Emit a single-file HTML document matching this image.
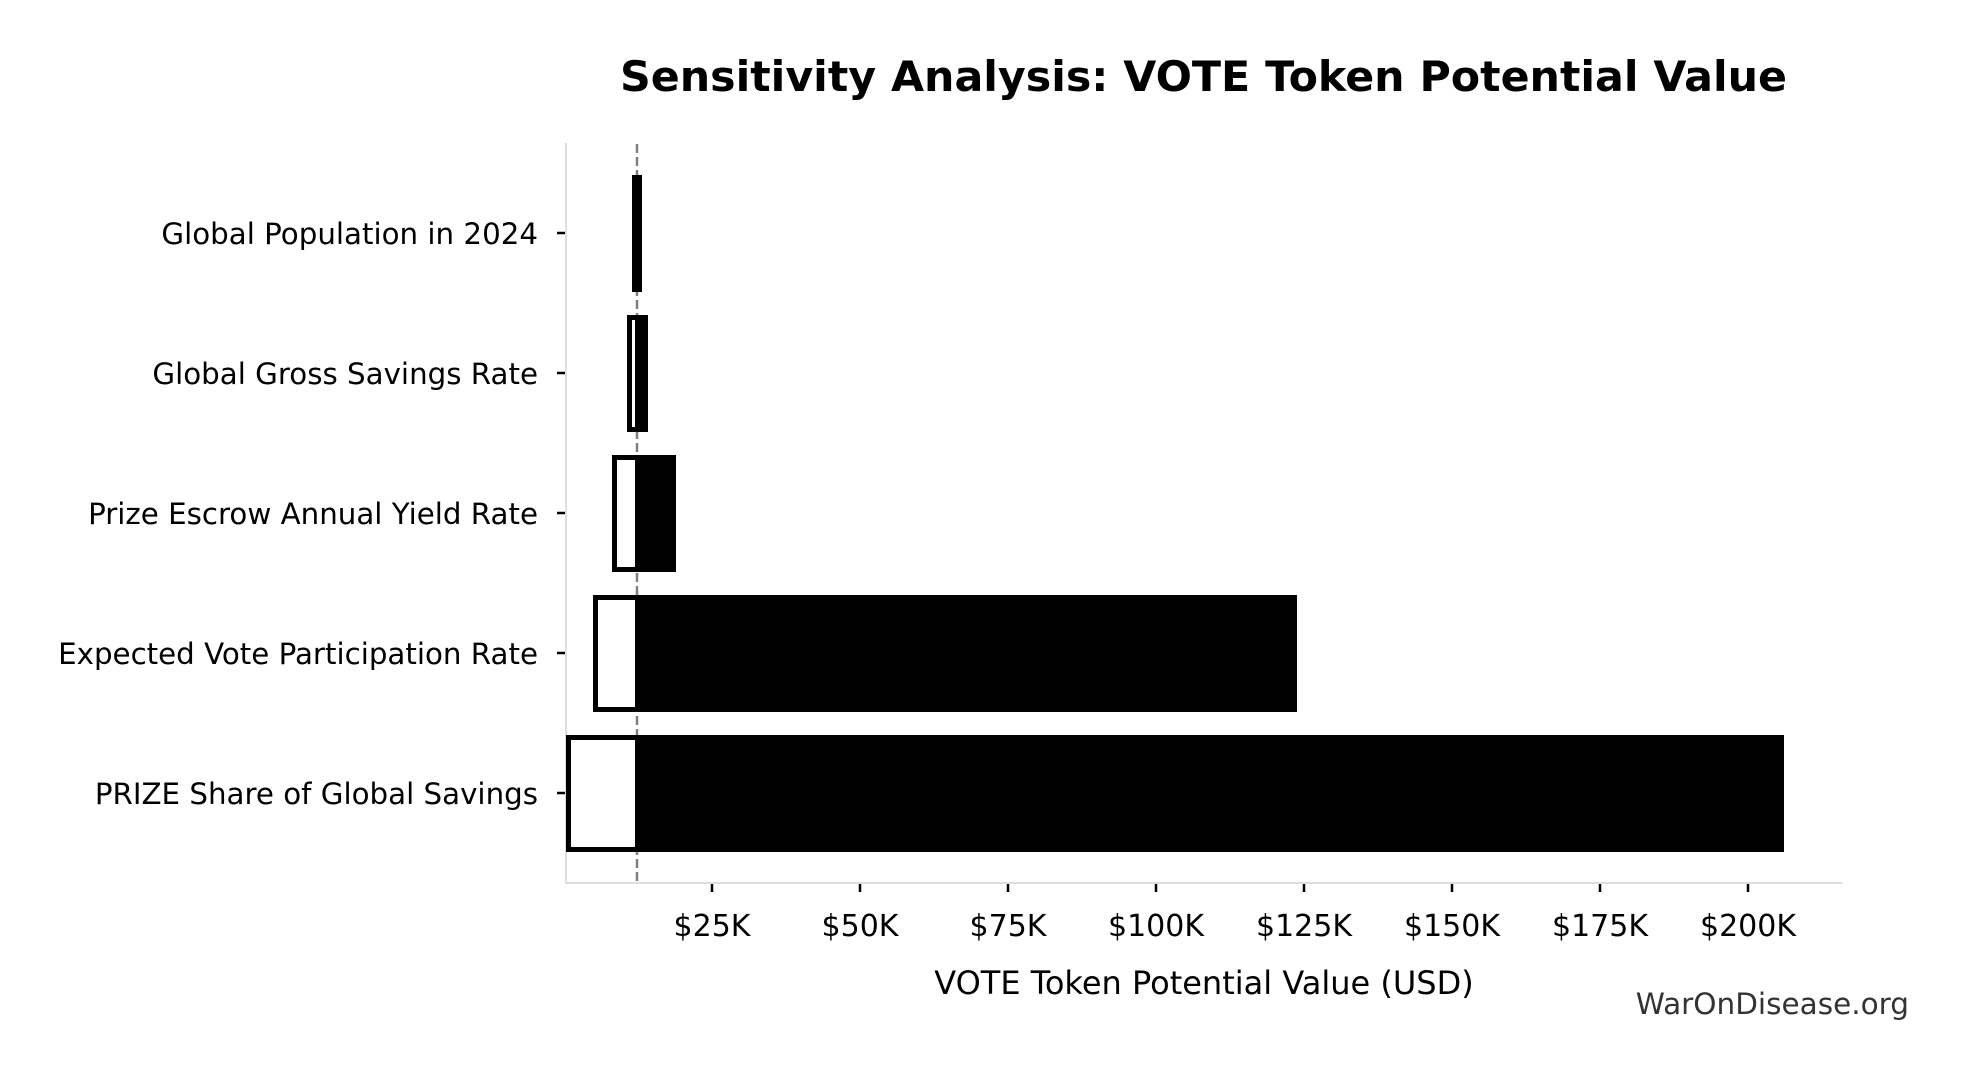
<!DOCTYPE html>
<html><head><meta charset="utf-8"><style>html,body{margin:0;padding:0;background:#fff}svg{display:block}</style></head>
<body>
<svg width="1966" height="1075" viewBox="0 0 1966 1075" xmlns="http://www.w3.org/2000/svg" font-family="'DejaVu Sans','Liberation Sans',sans-serif">
<rect width="1966" height="1075" fill="#fff"/>
<text x="620" y="91" font-size="41.5" font-weight="bold" textLength="1167" lengthAdjust="spacingAndGlyphs">Sensitivity Analysis: VOTE Token Potential Value</text>
<line x1="566" y1="143" x2="566" y2="884" stroke="#ddd" stroke-width="2"/>
<line x1="565" y1="883" x2="1842" y2="883" stroke="#ddd" stroke-width="2"/>
<line x1="637" y1="144" x2="637" y2="883" stroke="#808080" stroke-width="2.5" stroke-dasharray="9,4"/>
<g stroke="none">
<rect x="632" y="175" width="10" height="117" fill="#000"/>
<rect x="627" y="315" width="21" height="117" fill="#000"/>
<rect x="632" y="320" width="3" height="107" fill="#fff"/>
<rect x="612" y="455" width="64" height="117" fill="#000"/>
<rect x="617" y="460" width="18" height="107" fill="#fff"/>
<rect x="593" y="595" width="42" height="117" fill="#000"/>
<rect x="598" y="600" width="37" height="107" fill="#fff"/>
<rect x="635" y="595" width="662" height="117" fill="#000"/>
<rect x="566" y="735" width="69" height="117" fill="#000"/>
<rect x="571" y="740" width="64" height="107" fill="#fff"/>
<rect x="635" y="735" width="1149" height="117" fill="#000"/>
</g>
<g stroke="#000" stroke-width="2.5">
<line x1="557" y1="233" x2="565" y2="233"/><line x1="557" y1="373" x2="565" y2="373"/>
<line x1="557" y1="513" x2="565" y2="513"/><line x1="557" y1="653" x2="565" y2="653"/>
<line x1="557" y1="793" x2="565" y2="793"/>
</g>
<g font-size="29.3" text-anchor="end" fill="#000">
<text x="538" y="244">Global Population in 2024</text>
<text x="538" y="384">Global Gross Savings Rate</text>
<text x="538" y="524">Prize Escrow Annual Yield Rate</text>
<text x="538" y="664">Expected Vote Participation Rate</text>
<text x="538" y="804">PRIZE Share of Global Savings</text>
</g>
<g stroke="#000" stroke-width="2.5">
<line x1="712" y1="884" x2="712" y2="892"/><line x1="860" y1="884" x2="860" y2="892"/>
<line x1="1008" y1="884" x2="1008" y2="892"/><line x1="1156" y1="884" x2="1156" y2="892"/>
<line x1="1304" y1="884" x2="1304" y2="892"/><line x1="1452" y1="884" x2="1452" y2="892"/>
<line x1="1600" y1="884" x2="1600" y2="892"/><line x1="1748" y1="884" x2="1748" y2="892"/>
</g>
<g font-size="30" text-anchor="middle" fill="#000">
<text x="712" y="936">$25K</text><text x="860" y="936">$50K</text><text x="1008" y="936">$75K</text>
<text x="1156" y="936">$100K</text><text x="1304" y="936">$125K</text><text x="1452" y="936">$150K</text>
<text x="1600" y="936">$175K</text><text x="1748" y="936">$200K</text>
</g>
<text x="1204" y="994" font-size="32" text-anchor="middle">VOTE Token Potential Value (USD)</text>
<text x="1909" y="1014" font-size="29.5" text-anchor="end" fill="#333">WarOnDisease.org</text>
</svg>
</body></html>
